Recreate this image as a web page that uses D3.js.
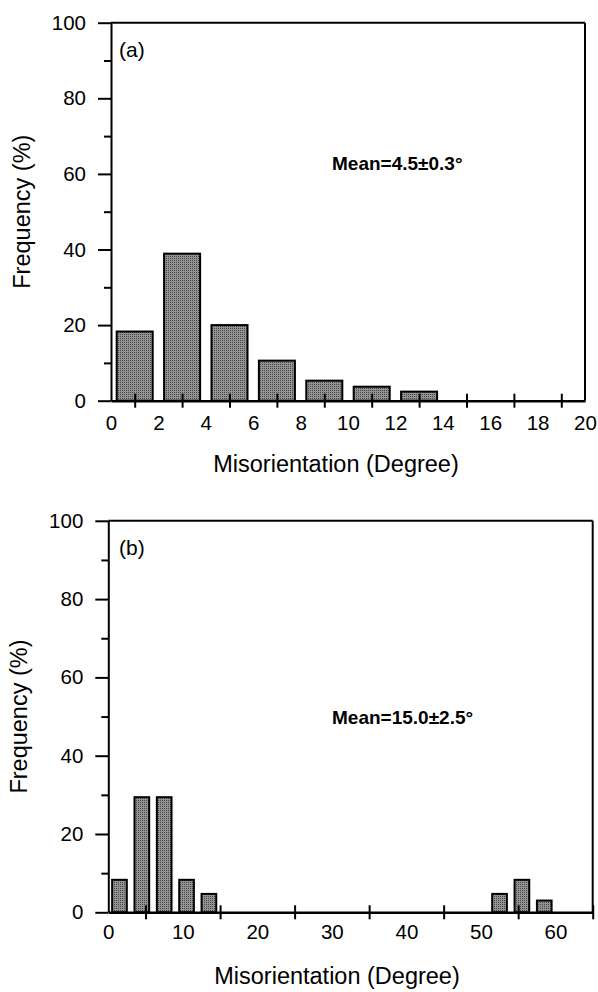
<!DOCTYPE html>
<html>
<head>
<meta charset="utf-8">
<script src="https://cdn.jsdelivr.net/npm/d3@7"></script>
<style>
  body { margin: 0; background: #fff; }
  text { font-family: "Liberation Sans", Arial, Helvetica, sans-serif; fill: #000; }
  .domain, .tick line { stroke: #000; }
</style>
</head>
<body>
<script>
// panel (a): bars centred on odd degrees, bin width 2
var centersA = [1, 3, 5, 7, 9, 11, 13];
var freqA = [18.3, 38.9, 20.0, 10.6, 5.3, 3.7, 2.4];
var labelTicksA = [0, 2, 4, 6, 8, 10, 12, 14, 16, 18, 20];
var markTicksA = [1, 3, 5, 7, 9, 11, 13, 15, 17, 19];

// panel (b): bin width 3
var centersB = [1.5, 4.5, 7.5, 10.5, 13.5, 52.5, 55.5, 58.5];
var freqB = [8.3, 29.4, 29.4, 8.3, 4.7, 4.7, 8.3, 3.0];
var labelTicksB = [0, 10, 20, 30, 40, 50, 60];
var markTicksB = [5, 15, 25, 35, 45, 55, 65];

var yMajor = [0, 20, 40, 60, 80, 100];
var yMinor = [10, 30, 50, 70, 90];

var svg = d3.select("body").append("svg")
    .attr("width", 598)
    .attr("height", 992);

var defs = svg.append("defs");
var pat = defs.append("pattern")
    .attr("id", "dots")
    .attr("width", 2).attr("height", 2)
    .attr("patternUnits", "userSpaceOnUse");
pat.append("rect").attr("width", 2).attr("height", 2).attr("fill", "#939393");
pat.append("rect").attr("width", 1).attr("height", 1).attr("fill", "#474747");

var panels = [
  { centers: centersA, freq: freqA, labels: labelTicksA, marks: markTicksA,
    xmax: 20, barW: 1.52, left: 111, right: 585, top: 22.7, bottom: 400.7,
    tag: "(a)", mean: "Mean=4.5\u00b10.3\u00b0", meanY: 170, labPad: 15, titleX: 336, titleY: 472, yTitleX: 30 },
  { centers: centersB, freq: freqB, labels: labelTicksB, marks: markTicksB,
    xmax: 65, barW: 1.97, left: 108.3, right: 592.7, top: 520.8, bottom: 912.3,
    tag: "(b)", mean: "Mean=15.0\u00b12.5\u00b0", meanY: 724, labPad: 12, titleX: 337, titleY: 984, yTitleX: 27 }
];

panels.forEach(function(p) {
  var x = d3.scaleLinear().domain([0, p.xmax]).range([p.left, p.right]);
  var y = d3.scaleLinear().domain([0, 100]).range([p.bottom, p.top]);
  var g = svg.append("g");

  // bars
  g.selectAll(".bar")
    .data(p.centers.map(function(c, i) { return { c: c, v: p.freq[i] }; }))
    .enter()
      .append("rect")
      .attr("class", "bar")
      .attr("x", function(d) { return x(d.c - p.barW / 2); })
      .attr("width", function(d) { return x(d.c + p.barW / 2) - x(d.c - p.barW / 2); })
      .attr("y", function(d) { return y(d.v); })
      .attr("height", function(d) { return y(0) - y(d.v); })
      .attr("fill", "url(#dots)")
      .attr("stroke", "#000")
      .attr("stroke-width", 2);

  // frame: top and right
  g.append("line").attr("x1", p.left).attr("x2", p.right).attr("y1", p.top).attr("y2", p.top)
    .attr("stroke", "#000").attr("stroke-width", 2);
  g.append("line").attr("x1", p.right).attr("x2", p.right).attr("y1", p.top).attr("y2", p.bottom)
    .attr("stroke", "#000").attr("stroke-width", 2);

  // y axis, minor ticks
  g.append("g")
    .attr("transform", "translate(" + p.left + ",0)")
    .call(d3.axisLeft(y).tickValues(yMinor).tickSize(7).tickFormat(""))
    .call(function(s) { s.select(".domain").remove(); })
    .selectAll("line").attr("stroke-width", 2);

  // y axis, major ticks with labels
  var ya = g.append("g")
    .attr("transform", "translate(" + p.left + ",0)")
    .call(d3.axisLeft(y).tickValues(yMajor).tickSize(13).tickSizeOuter(0).tickPadding(12));
  ya.select(".domain").attr("stroke-width", 2);
  ya.selectAll("line").attr("stroke-width", 2);
  ya.selectAll("text").attr("font-size", 20.5).attr("font-family", null);

  // x axis labels (no ticks)
  var xa = g.append("g")
    .attr("transform", "translate(0," + p.bottom + ")")
    .call(d3.axisBottom(x).tickValues(p.labels).tickSize(0).tickPadding(p.labPad));
  xa.select(".domain").attr("stroke-width", 2.5);
  xa.selectAll("text").attr("font-size", 20.5).attr("font-family", null);

  // x axis cross ticks between labels
  g.append("g")
    .attr("transform", "translate(0," + p.bottom + ")")
    .call(d3.axisBottom(x).tickValues(p.marks).tickSize(7).tickFormat(""))
    .call(function(s) { s.select(".domain").remove(); })
    .selectAll("line")
      .attr("y1", -7)
      .attr("stroke-width", 2);

  // texts
  g.append("text").attr("x", 119).attr("y", p.top + 34)
    .attr("font-size", 21).text(p.tag);
  g.append("text").attr("x", 332).attr("y", p.meanY)
    .attr("font-size", 19).attr("font-weight", "bold").text(p.mean);
  g.append("text").attr("x", p.titleX).attr("y", p.titleY)
    .attr("text-anchor", "middle").attr("font-size", 23.5)
    .text("Misorientation (Degree)");
  g.append("text")
    .attr("transform", "translate(" + p.yTitleX + "," + (p.top + p.bottom) / 2 + ") rotate(-90)")
    .attr("text-anchor", "middle").attr("font-size", 23.5)
    .text("Frequency (%)");
});
</script>
</body>
</html>
